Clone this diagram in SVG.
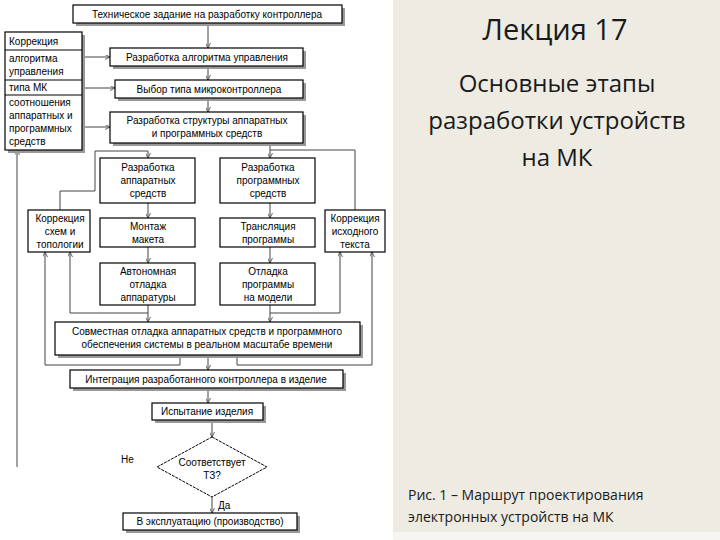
<svg xmlns="http://www.w3.org/2000/svg" width="720" height="540" viewBox="0 0 720 540">
<defs>
<style>
.b{fill:#fff;stroke:#000;stroke-width:1.2}
.sh{fill:#999}
.t{font-family:"Liberation Sans",Arial,sans-serif;font-size:10px;fill:#000;text-anchor:middle}
.tl{font-family:"Liberation Sans",Arial,sans-serif;font-size:10px;fill:#000}
.c{fill:none;stroke:#444;stroke-width:1}
.r{font-family:"Open Sans","Noto Sans",sans-serif;fill:#1a1a1a;text-anchor:middle}
.cap{font-family:"Open Sans","Noto Sans",sans-serif;fill:#1a1a1a;font-size:14px}
</style>
<marker id="a" viewBox="0 0 6 6" refX="6" refY="3" markerWidth="5" markerHeight="5" orient="auto"><path d="M0,0L6,3L0,6" fill="none" stroke="#444"/></marker>
</defs>
<rect width="720" height="540" fill="#fff"/>
<rect x="393" y="0" width="327" height="532" fill="#eeebe3"/>
<rect x="393" y="532" width="327" height="8" fill="#f6f5f1"/>
<text class="r" x="555" y="40" font-size="29">Лекция 17</text>
<text class="r" x="557" y="92" font-size="24">Основные этапы</text>
<text class="r" x="557" y="129" font-size="24">разработки устройств</text>
<text class="r" x="557" y="166" font-size="24">на МК</text>
<text class="cap" x="408" y="500">Рис. 1 – Маршрут проектирования</text>
<text class="cap" x="408" y="522">электронных устройств на МК</text>

<g id="connectors">
<path class="c" d="M208,24V48" marker-end="url(#a)"/>
<path class="c" d="M208,66V80" marker-end="url(#a)"/>
<path class="c" d="M208,98V112" marker-end="url(#a)"/>
<path class="c" d="M82,57H110" marker-end="url(#a)"/>
<path class="c" d="M82,88H115" marker-end="url(#a)"/>
<path class="c" d="M82,127H110" marker-end="url(#a)"/>
<path class="c" d="M270,143V158" marker-end="url(#a)"/>
<path class="c" d="M60,210V191H95V151H148V158" marker-end="url(#a)"/>
<path class="c" d="M355,210V150H270"/>
<path class="c" d="M148,203V218" marker-end="url(#a)"/>
<path class="c" d="M148,247V263" marker-end="url(#a)"/>
<path class="c" d="M270,203V218" marker-end="url(#a)"/>
<path class="c" d="M270,247V263" marker-end="url(#a)"/>
<path class="c" d="M148,305V322" marker-end="url(#a)"/>
<path class="c" d="M270,305V322" marker-end="url(#a)"/>
<path class="c" d="M148,313H70V252" marker-end="url(#a)"/>
<path class="c" d="M270,313H340V252" marker-end="url(#a)"/>
<path class="c" d="M180,355V365H45V252" marker-end="url(#a)"/>
<path class="c" d="M237,355V365H372V252" marker-end="url(#a)"/>
<path class="c" d="M208,355V370" marker-end="url(#a)"/>
<path class="c" d="M208,388V403" marker-end="url(#a)"/>
<path class="c" d="M212,420V437" marker-end="url(#a)"/>
<path class="c" d="M212,497V513" marker-end="url(#a)"/>
<path class="c" d="M17,467V150" marker-end="url(#a)"/>
</g>

<g id="n1"><rect class="sh" x="76" y="8" width="269" height="18"/><rect class="b" x="73" y="5" width="269" height="18"/><text class="t" x="207" y="18">Техническое задание на разработку контроллера</text></g>
<g id="n2"><rect class="sh" x="8" y="35" width="77" height="118"/><rect class="b" x="5" y="32" width="77" height="118"/>
<path d="M5,50H82M5,80H82M5,95H82" stroke="#000" stroke-width="1"/>
<text class="tl" x="9" y="45">Коррекция</text><text class="tl" x="9" y="62">алгоритма</text><text class="tl" x="9" y="75">управления</text><text class="tl" x="9" y="91">типа МК</text>
<text class="tl" x="9" y="106">соотношения</text><text class="tl" x="9" y="119">аппаратных и</text><text class="tl" x="9" y="132">программных</text><text class="tl" x="9" y="145">средств</text></g>
<g id="n3"><rect class="sh" x="113" y="51" width="193" height="18"/><rect class="b" x="110" y="48" width="193" height="18"/><text class="t" x="207" y="61">Разработка алгоритма управления</text></g>
<g id="n4"><rect class="sh" x="118" y="83" width="188" height="18"/><rect class="b" x="115" y="80" width="188" height="18"/><text class="t" x="209" y="93">Выбор типа микроконтроллера</text></g>
<g id="n5"><rect class="sh" x="113" y="115" width="193" height="31"/><rect class="b" x="110" y="112" width="193" height="31"/><text class="t" x="207" y="124">Разработка структуры аппаратных</text><text class="t" x="207" y="137">и программных средств</text></g>
<g id="n6"><rect class="b" x="100" y="158" width="95" height="45"/><text class="t" x="148" y="171">Разработка</text><text class="t" x="148" y="184">аппаратных</text><text class="t" x="148" y="197">средств</text></g>
<g id="n7"><rect class="b" x="220" y="158" width="95" height="45"/><text class="t" x="268" y="171">Разработка</text><text class="t" x="268" y="184">программных</text><text class="t" x="268" y="197">средств</text></g>
<g id="n8"><rect class="b" x="28" y="210" width="62" height="42"/><text class="t" x="60" y="222">Коррекция</text><text class="t" x="60" y="235">схем и</text><text class="t" x="60" y="248">топологии</text></g>
<g id="n9"><rect class="b" x="100" y="218" width="95" height="29"/><text class="t" x="148" y="230">Монтаж</text><text class="t" x="148" y="243">макета</text></g>
<g id="n10"><rect class="b" x="220" y="218" width="95" height="29"/><text class="t" x="268" y="230">Трансляция</text><text class="t" x="268" y="243">программы</text></g>
<g id="n11"><rect class="b" x="325" y="210" width="60" height="42"/><text class="t" x="355" y="222">Коррекция</text><text class="t" x="355" y="235">исходного</text><text class="t" x="355" y="248">текста</text></g>
<g id="n12"><rect class="b" x="100" y="263" width="95" height="42"/><text class="t" x="148" y="275">Автономная</text><text class="t" x="148" y="288">отладка</text><text class="t" x="148" y="301">аппаратуры</text></g>
<g id="n13"><rect class="b" x="220" y="263" width="95" height="42"/><text class="t" x="268" y="275">Отладка</text><text class="t" x="268" y="288">программы</text><text class="t" x="268" y="301">на модели</text></g>
<g id="n14"><rect class="sh" x="58" y="325" width="305" height="33"/><rect class="b" x="55" y="322" width="305" height="33"/><text class="t" x="207" y="335">Совместная отладка аппаратных средств и программного</text><text class="t" x="207" y="348">обеспечения системы в реальном масштабе времени</text></g>
<g id="n15"><rect class="sh" x="73" y="373" width="273" height="18"/><rect class="b" x="70" y="370" width="273" height="18"/><text class="t" x="206" y="383">Интеграция разработанного контроллера в изделие</text></g>
<g id="n16"><rect class="sh" x="155" y="406" width="111" height="17"/><rect class="b" x="152" y="403" width="111" height="17"/><text class="t" x="207" y="415">Испытание изделия</text></g>
<g id="n17"><path d="M212,437L267,467L212,497L157,467Z" fill="#fff" stroke="#000" stroke-width="1" stroke-dasharray="3,1"/><text class="t" x="212" y="466">Соответствует</text><text class="t" x="212" y="479">ТЗ?</text></g>
<text class="tl" x="121" y="463">Не</text>
<text class="tl" x="218" y="509">Да</text>
<g id="n18"><rect class="sh" x="126" y="516" width="174" height="17"/><rect class="b" x="123" y="513" width="174" height="17"/><text class="t" x="210" y="525">В эксплуатацию (производство)</text></g>
</svg>
